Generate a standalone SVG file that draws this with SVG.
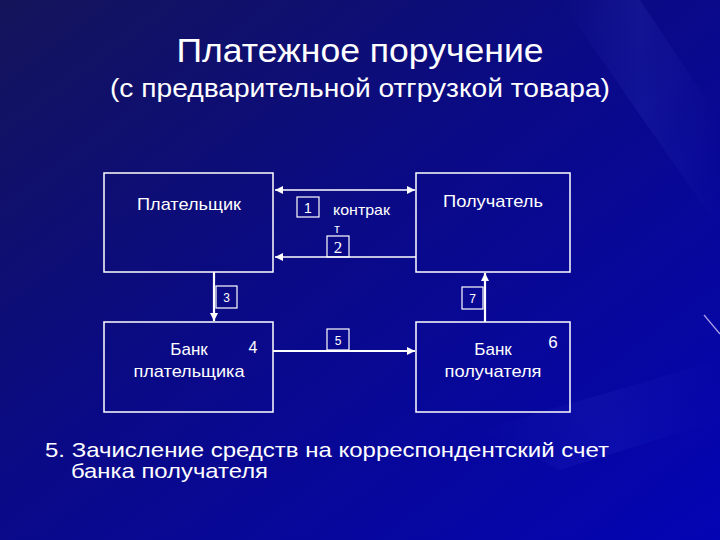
<svg xmlns="http://www.w3.org/2000/svg" width="720" height="540" viewBox="0 0 720 540">
  <defs>
    <linearGradient id="bg" x1="0" y1="0" x2="1" y2="1">
      <stop offset="0" stop-color="#14145a"/>
      <stop offset="0.45" stop-color="#0a0a86"/>
      <stop offset="1" stop-color="#0404b4"/>
    </linearGradient>
    <linearGradient id="streak" x1="0" y1="0" x2="1" y2="0">
      <stop offset="0" stop-color="#4a5ae0" stop-opacity="0"/>
      <stop offset="0.5" stop-color="#4a5ae0" stop-opacity="0.25"/>
      <stop offset="1" stop-color="#4a5ae0" stop-opacity="0"/>
    </linearGradient>
    <marker id="ah" markerUnits="userSpaceOnUse" markerWidth="9" markerHeight="8" refX="8" refY="4" orient="auto-start-reverse">
      <path d="M0,0 L8,4 L0,8 z" fill="#ffffff"/>
    </marker>
    <style>
      .box { fill: none; stroke: #ffffff; stroke-width: 1.5; }
      .tag { fill: none; stroke: #ffffff; stroke-width: 1.2; }
      .line { stroke: #ffffff; stroke-width: 1.6; fill: none; }
      .thick { stroke: #ffffff; stroke-width: 2.2; fill: none; }
      .t { fill: #ffffff; font-family: "Liberation Sans", Arial, sans-serif; }
      .serif { fill: #ffffff; font-family: "Liberation Serif", "Times New Roman", serif; }
    </style>
  </defs>

  <rect x="0" y="0" width="720" height="540" fill="url(#bg)"/>
  <polygon points="560,0 640,0 720,120 720,230" fill="url(#streak)" opacity="0.5"/>
  <polygon points="480,430 720,360 720,420 560,470" fill="url(#streak)" opacity="0.4"/>
  <line x1="704" y1="315" x2="720" y2="334" stroke="#d8c8ff" stroke-width="1.2" opacity="0.8"/>

  <g id="title">
    <text class="t" x="360" y="62" font-size="33" text-anchor="middle" textLength="367" lengthAdjust="spacingAndGlyphs">Платежное поручение</text>
    <text class="t" x="360" y="97" font-size="25" text-anchor="middle" textLength="500" lengthAdjust="spacingAndGlyphs">(с предварительной отгрузкой товара)</text>
  </g>

  <g id="payer">
    <rect class="box" x="104" y="173" width="169" height="99"/>
    <text class="t" x="189" y="210" font-size="17" text-anchor="middle" textLength="104" lengthAdjust="spacingAndGlyphs">Плательщик</text>
  </g>

  <g id="recipient">
    <rect class="box" x="416" y="173" width="154" height="99"/>
    <text class="t" x="493" y="207" font-size="17" text-anchor="middle" textLength="100" lengthAdjust="spacingAndGlyphs">Получатель</text>
  </g>

  <g id="payer-bank">
    <rect class="box" x="104" y="322" width="169" height="90"/>
    <text class="t" x="189" y="355" font-size="17" text-anchor="middle">Банк</text>
    <text class="t" x="189" y="377" font-size="17" text-anchor="middle" textLength="111" lengthAdjust="spacingAndGlyphs">плательщика</text>
    <text class="t" x="253" y="353" font-size="16" text-anchor="middle">4</text>
  </g>

  <g id="recipient-bank">
    <rect class="box" x="416" y="322" width="154" height="90"/>
    <text class="t" x="493" y="355" font-size="17" text-anchor="middle">Банк</text>
    <text class="t" x="493" y="377" font-size="17" text-anchor="middle" textLength="97" lengthAdjust="spacingAndGlyphs">получателя</text>
    <text class="t" x="553" y="348" font-size="17" text-anchor="middle">6</text>
  </g>

  <g id="connectors">
    <line class="line" x1="275" y1="190" x2="415" y2="190" marker-start="url(#ah)" marker-end="url(#ah)"/>
    <line class="line" x1="416" y1="257" x2="275" y2="257" marker-end="url(#ah)"/>
    <line class="thick" x1="214" y1="272" x2="214" y2="321" marker-end="url(#ah)"/>
    <line class="thick" x1="273" y1="351" x2="415" y2="351" marker-end="url(#ah)"/>
    <line class="thick" x1="485" y1="322" x2="485" y2="273" marker-end="url(#ah)"/>
  </g>

  <g id="labels">
    <rect class="tag" x="297" y="197" width="22" height="20"/>
    <text class="t" x="308" y="213" font-size="14" text-anchor="middle">1</text>
    <text class="t" x="333" y="215" font-size="15" textLength="57" lengthAdjust="spacingAndGlyphs">контрак</text>
    <text class="t" x="337" y="233" font-size="12" text-anchor="middle">т</text>
    <rect class="tag" x="327" y="236" width="22" height="21"/>
    <text class="serif" x="338" y="253" font-size="17" text-anchor="middle">2</text>
    <rect class="tag" x="216" y="286" width="21" height="22"/>
    <text class="t" x="226.5" y="302" font-size="12" text-anchor="middle">3</text>
    <rect class="tag" x="327" y="329" width="22" height="21"/>
    <text class="t" x="338" y="345" font-size="12" text-anchor="middle">5</text>
    <rect class="tag" x="462" y="287" width="21" height="22"/>
    <text class="t" x="472.5" y="303" font-size="12" text-anchor="middle">7</text>
  </g>

  <g id="note">
    <text class="t" x="45" y="457" font-size="21" textLength="564" lengthAdjust="spacingAndGlyphs">5. Зачисление средств на корреспондентский счет</text>
    <text class="t" x="71" y="478" font-size="21" textLength="197" lengthAdjust="spacingAndGlyphs">банка получателя</text>
  </g>
</svg>
